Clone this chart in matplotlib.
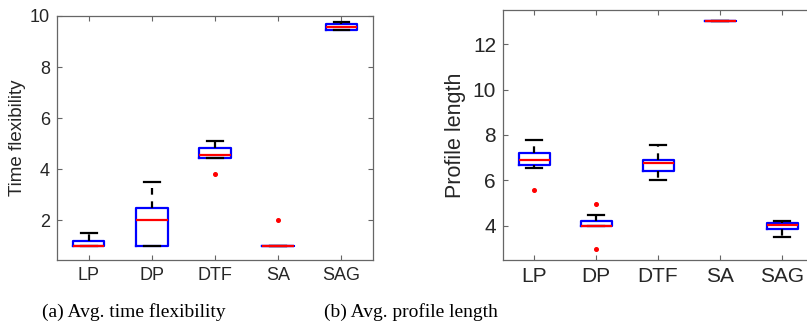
import matplotlib
matplotlib.use('Agg')
import matplotlib.pyplot as plt

plt.rcParams['font.family'] = ['Liberation Sans', 'DejaVu Sans']

labels = ['LP', 'DP', 'DTF', 'SA', 'SAG']

# (a) time flexibility: box summaries
tf_lo  = [1.0, 1.0, 4.43, 1.0, 9.45]
tf_q1  = [1.0, 1.0, 4.46, 1.0, 9.47]
tf_med = [1.0, 2.0, 4.57, 1.0, 9.57]
tf_q3  = [1.2, 2.5, 4.83, 1.0, 9.67]
tf_hi  = [1.5, 3.5, 5.1, 1.0, 9.76]
tf_out = [[], [], [3.83], [2.0], []]

# (b) profile length
pl_lo  = [6.57, 4.0, 6.0, 13.0, 3.53]
pl_q1  = [6.66, 4.0, 6.4, 13.0, 3.87]
pl_med = [6.88, 4.0, 6.79, 13.0, 4.04]
pl_q3  = [7.19, 4.23, 6.91, 13.0, 4.15]
pl_hi  = [7.79, 4.48, 7.58, 13.0, 4.22]
pl_out = [[5.57], [4.98, 2.99], [], [], []]

AX_COLOR = '#666666'
TXT_COLOR = '#262626'


def make_stats(lo, q1, med, q3, hi, out):
    return [dict(whislo=a, q1=b, med=c, q3=d, whishi=e, fliers=f, label=l)
            for a, b, c, d, e, f, l in zip(lo, q1, med, q3, hi, out, labels)]


def draw(ax, stats, ylim, yticks, ylabel, fs, lfs, lpad):
    ax.bxp(stats, widths=0.5, capwidths=0.25, showfliers=True,
           boxprops=dict(color='blue', linewidth=1.6),
           medianprops=dict(color='red', linewidth=1.6, zorder=4),
           whiskerprops=dict(color='black', linewidth=1.6, linestyle=(0, (3, 3))),
           capprops=dict(color='black', linewidth=1.6),
           flierprops=dict(marker='o', markersize=2.6, markerfacecolor='red',
                           markeredgecolor='red'))
    ax.set_xlim(0.5, 5.5)
    ax.set_ylim(*ylim)
    ax.set_yticks(yticks)
    ax.set_xticks(range(1, 6))
    ax.set_xticklabels(labels)
    ax.set_ylabel(ylabel, fontsize=lfs, color=TXT_COLOR, labelpad=lpad)
    ax.tick_params(direction='in', top=True, right=True, length=3.5,
                   width=0.8, color=AX_COLOR, labelsize=fs,
                   labelcolor=TXT_COLOR, pad=5)
    for sp in ax.spines.values():
        sp.set_color(AX_COLOR)
        sp.set_linewidth(0.9)


fig = plt.figure(figsize=(8.07, 3.34), dpi=100)

ax1 = fig.add_axes([57 / 807, 74 / 334, 316 / 807, 244 / 334])
draw(ax1, make_stats(tf_lo, tf_q1, tf_med, tf_q3, tf_hi, tf_out),
     (0.45, 10.0), [2, 4, 6, 8, 10], 'Time flexibility', 13, 13.5, 2.5)

# right panel runs past the figure edge, as in the original
ax2 = fig.add_axes([503 / 807, 74 / 334, 310 / 807, 250 / 334])
draw(ax2, make_stats(pl_lo, pl_q1, pl_med, pl_q3, pl_hi, pl_out),
     (2.5, 13.5), [4, 6, 8, 10, 12], 'Profile length', 15, 15.5, 5)

cap_font = dict(family=['Liberation Serif', 'DejaVu Serif'], fontsize=14,
                ha='center', va='baseline', color='black')
fig.text(134 / 807, 1 - 317 / 334, '(a) Avg. time flexibility', **cap_font)
fig.text(411 / 807, 1 - 317 / 334, '(b) Avg. profile length', **cap_font)

fig.savefig('out.png', dpi=100, facecolor='white')
plt.close(fig)
